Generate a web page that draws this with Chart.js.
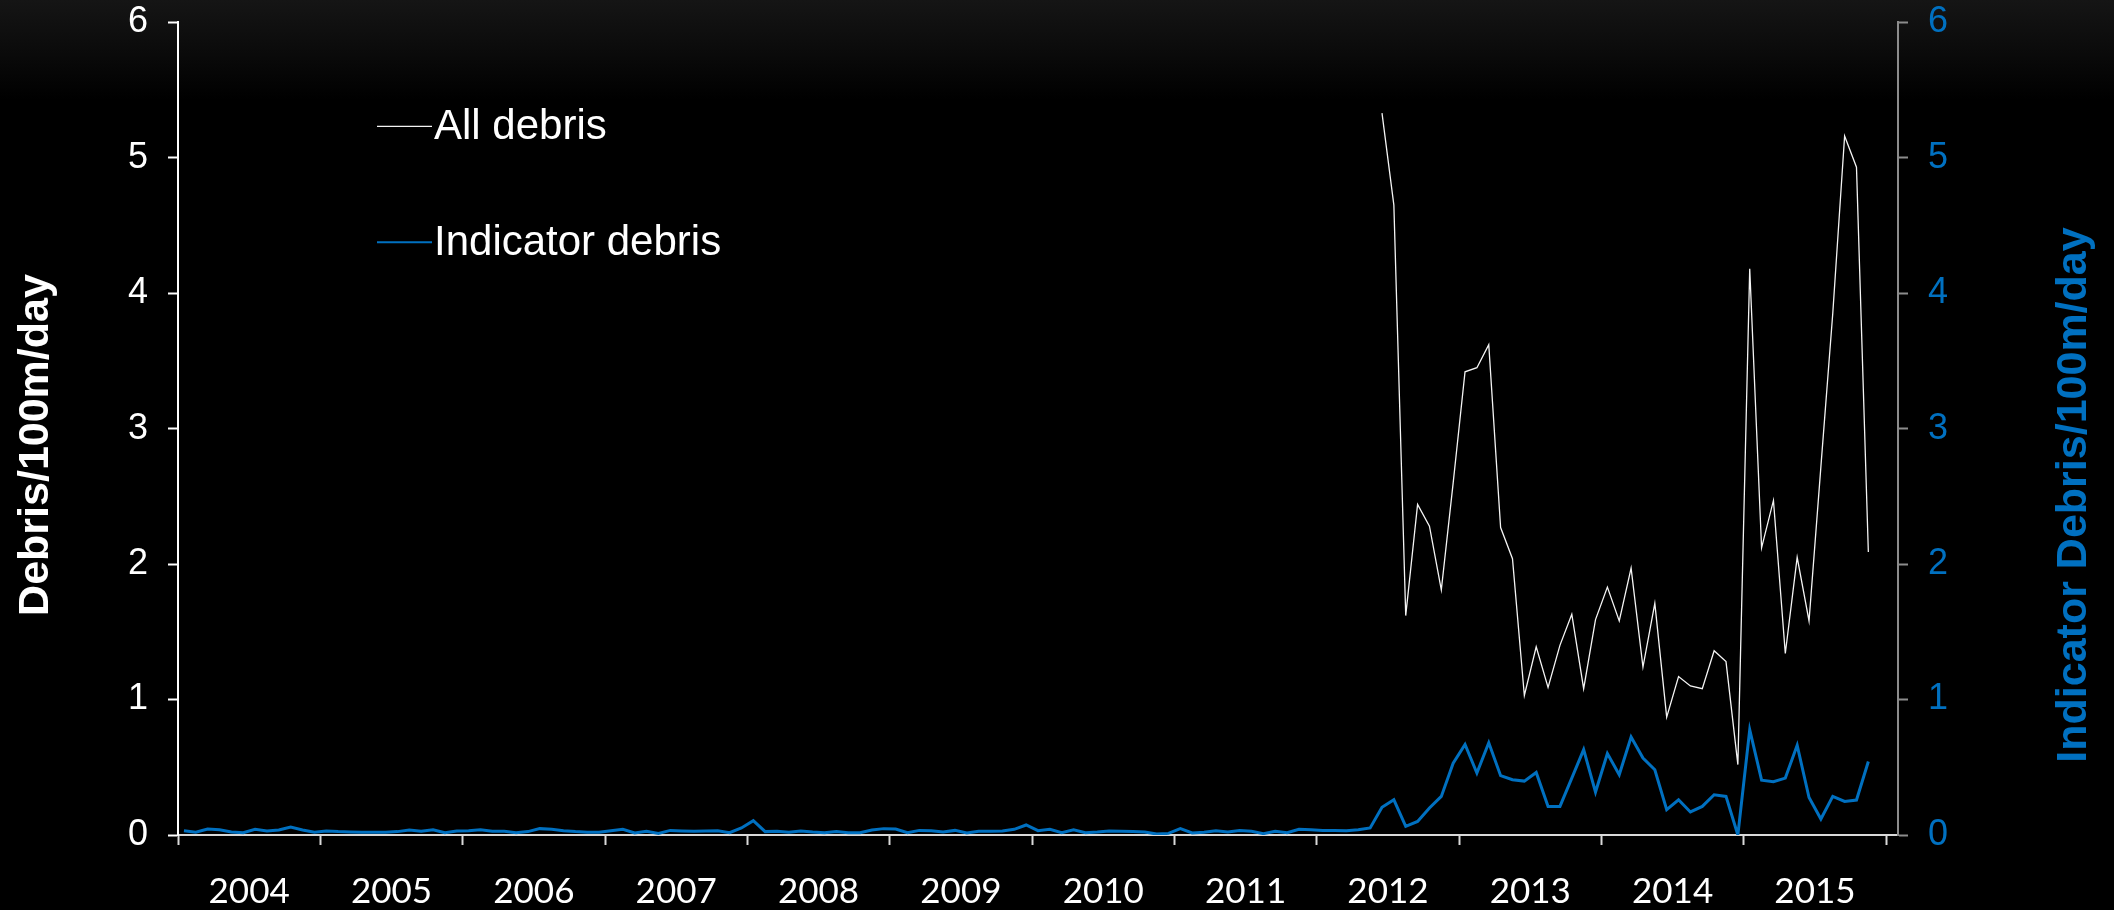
<!DOCTYPE html>
<html>
<head>
<meta charset="utf-8">
<title>Debris/100m/day</title>
<script src="https://cdn.jsdelivr.net/npm/chart.js@4.4.1/dist/chart.umd.min.js"></script>
<style>
  html, body { margin: 0; padding: 0; background: #000; }
  body { background: linear-gradient(to bottom, #151515 0px, #0c0c0c 45px, #000 100px); }
  #wrap { width: 2114px; height: 910px; position: relative; }
</style>
</head>
<body>
<div id="wrap"><canvas id="debrisChart"></canvas></div>
<script>
// one label per year, monthly values from Jan 2004 to Nov 2015
const years = ['2004', '2005', '2006', '2007', '2008', '2009', '2010', '2011', '2012', '2013', '2014', '2015'];
const yTicks = [0, 1, 2, 3, 4, 5, 6];

const indicatorDebris = [
  0.032, 0.020, 0.044, 0.039, 0.022, 0.017, 0.042, 0.030, 0.037, 0.059, 0.037, 0.020,
  0.030, 0.025, 0.022, 0.020, 0.020, 0.020, 0.025, 0.037, 0.027, 0.039, 0.017, 0.030,
  0.032, 0.039, 0.027, 0.027, 0.017, 0.025, 0.047, 0.042, 0.032, 0.025, 0.020, 0.020,
  0.032, 0.042, 0.015, 0.027, 0.012, 0.034, 0.030, 0.027, 0.030, 0.032, 0.017, 0.052,
  0.106, 0.025, 0.027, 0.020, 0.030, 0.022, 0.017, 0.025, 0.017, 0.017, 0.037, 0.047,
  0.044, 0.017, 0.034, 0.032, 0.022, 0.034, 0.015, 0.027, 0.027, 0.030, 0.042, 0.074,
  0.032, 0.042, 0.017, 0.039, 0.017, 0.022, 0.030, 0.027, 0.025, 0.022, 0.007, 0.012,
  0.047, 0.015, 0.020, 0.032, 0.022, 0.034, 0.027, 0.010, 0.027, 0.017, 0.042, 0.039,
  0.034, 0.034, 0.032, 0.039, 0.052, 0.205, 0.260, 0.064, 0.100, 0.200, 0.285, 0.530,
  0.669, 0.458, 0.681, 0.438, 0.408, 0.398, 0.462, 0.211, 0.211, 0.420, 0.630, 0.317,
  0.602, 0.445, 0.723, 0.568, 0.482, 0.187, 0.260, 0.170, 0.211, 0.297, 0.285, 0.000,
  0.777, 0.405, 0.393, 0.420, 0.662, 0.277, 0.118, 0.285, 0.248, 0.258, 0.543
];

// all-debris counts only start in June 2012
const allDebris = Array(101).fill(null).concat([
  5.33, 4.65, 1.62, 2.44, 2.28, 1.81, 2.60,
  3.42, 3.45, 3.62, 2.27, 2.04, 1.03, 1.39, 1.09, 1.40, 1.63, 1.08, 1.59,
  1.83, 1.58, 1.97, 1.24, 1.71, 0.87, 1.17, 1.10, 1.08, 1.36, 1.28, 0.52,
  4.18, 2.12, 2.47, 1.34, 2.05, 1.58, 2.72, 3.85, 5.16, 4.93, 2.09
]);

const BLUE = '#0070C0';
const monthSlots = years.length * 12 + 1;   // axis runs one month past Dec 2015

const toPoints = arr => arr.map((v, i) => ({ x: i + 0.5, y: v }));

// legend drawn inside the plot, stacked, line sample then label
const insideLegend = {
  id: 'insideLegend',
  afterDraw(chart) {
    const { ctx, chartArea } = chart;
    const x0 = chartArea.left + 199;
    const rows = [chartArea.top + 104, chartArea.top + 220];
    ctx.save();
    ctx.font = '42px "Liberation Sans", Arial, sans-serif';
    ctx.textBaseline = 'middle';
    chart.data.datasets.forEach((ds, i) => {
      const y = rows[i];
      ctx.strokeStyle = ds.borderColor;
      ctx.lineWidth = Math.min(ds.borderWidth, 2);
      ctx.beginPath();
      ctx.moveTo(x0, y);
      ctx.lineTo(x0 + 55, y);
      ctx.stroke();
      ctx.fillStyle = '#ffffff';
      ctx.fillText(ds.label, x0 + 57, y + 1);
    });
    ctx.restore();
  }
};

// both axis titles read bottom-to-top
const axisTitles = {
  id: 'axisTitles',
  afterDraw(chart) {
    const { ctx } = chart;
    const draw = (text, x, y, color) => {
      ctx.save();
      ctx.translate(x, y);
      ctx.rotate(-Math.PI / 2);
      ctx.font = 'bold 43px "Liberation Sans", Arial, sans-serif';
      ctx.fillStyle = color;
      ctx.textAlign = 'center';
      ctx.textBaseline = 'middle';
      ctx.fillText(text, 0, 0);
      ctx.restore();
    };
    draw('Debris/100m/day', 36, 445, '#ffffff');
    draw('Indicator Debris/100m/day', 2074, 495, BLUE);
  }
};

// fixed side widths; labels may overhang the plot top
const fixWidth = w => s => { s.width = w; s.paddingTop = 0; s.paddingBottom = 0; };

const ctx = document.getElementById('debrisChart').getContext('2d');
const debrisChart = new Chart(ctx, {
  type: 'line',
  data: {
    datasets: [
      {
        label: 'All debris',
        data: toPoints(allDebris),
        borderColor: '#f4f4f4',
        borderWidth: 1.3,
        pointRadius: 0,
        xAxisID: 'x',
        yAxisID: 'y'
      },
      {
        label: 'Indicator debris',
        data: toPoints(indicatorDebris),
        borderColor: BLUE,
        borderWidth: 3,
        pointRadius: 0,
        xAxisID: 'x',
        yAxisID: 'y2'
      }
    ]
  },
  options: {
    responsive: true,
    maintainAspectRatio: false,
    animation: false,
    layout: { padding: { top: 22.3, left: 0, right: 0, bottom: 0 } },
    plugins: {
      legend: { display: false },
      tooltip: { enabled: false }
    },
    scales: {
      x: {
        type: 'linear',
        position: 'bottom',
        weight: 0,
        min: 0,
        max: monthSlots,
        afterBuildTicks: s => { s.ticks = years.concat(['']).map((_, i) => ({ value: i * 12 })); },
        ticks: { display: false },
        grid: { drawOnChartArea: false, drawTicks: true, tickLength: 10, tickColor: '#d9d9d9', tickWidth: 2 },
        border: { color: '#d9d9d9', width: 2 },
        afterFit: s => { s.height = 10; }
      },
      xYears: {
        type: 'linear',
        position: 'bottom',
        weight: 1,
        min: 0,
        max: monthSlots,
        afterBuildTicks: s => { s.ticks = years.map((_, i) => ({ value: i * 12 + 6 })); },
        ticks: {
          autoSkip: false,
          maxRotation: 0,
          color: '#ffffff',
          padding: 26,
          font: { family: 'Lato', size: 35 },
          callback: (v, i) => years[i]
        },
        grid: { display: false, drawTicks: false },
        border: { display: false },
        afterFit: s => { s.height = 65; }
      },
      y: {
        position: 'left',
        min: 0,
        max: 6,
        afterBuildTicks: s => { s.ticks = yTicks.map(v => ({ value: v })); },
        ticks: { color: '#ffffff', padding: 20, font: { family: 'Liberation Sans', size: 36 } },
        grid: { drawOnChartArea: false, tickLength: 10, tickColor: '#ffffff', tickWidth: 2 },
        border: { color: '#ffffff', width: 2 },
        afterFit: fixWidth(178)
      },
      y2: {
        position: 'right',
        min: 0,
        max: 6,
        afterBuildTicks: s => { s.ticks = yTicks.map(v => ({ value: v })); },
        ticks: { color: BLUE, padding: 20, font: { family: 'Liberation Sans', size: 36 } },
        grid: { drawOnChartArea: false, tickLength: 10, tickColor: '#8c8c8c', tickWidth: 2 },
        border: { color: '#8c8c8c', width: 2 },
        afterFit: fixWidth(216)
      }
    }
  },
  plugins: [insideLegend, axisTitles]
});
</script>
</body>
</html>
